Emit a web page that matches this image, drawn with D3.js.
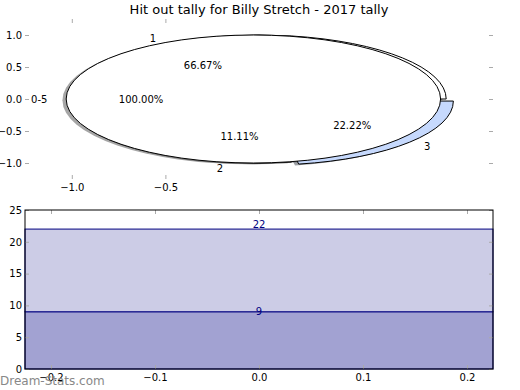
<!doctype html>
<html>
<head>
<meta charset="utf-8">
<style>
    body { margin: 0; background: #fff; }
    text { font-family: "DejaVu Sans", sans-serif; }
    .tick line { stroke: #aaa; }
    .tick text { font-size: 10px; fill: #000; }
</style>
<script src="https://d3js.org/d3.v7.min.js"></script>
</head>
<body>
<svg width="520" height="390"></svg>
<script>
// ---- data ----
var title = "Hit out tally for Billy Stretch - 2017 tally";

var outerLabels = ["1", "2", "3"];
var outerValues = [6, 1, 2];
var outerExplode = [0, 0, 0.05];
var outerColors = ["#ffffff", "#ffffff", "#c6d9fd"];

var innerLabels = ["0-5"];
var innerValues = [1];
var innerExplode = [0.03];
var innerColors = ["#ffffff"];

var pieXTicks = [-1.0, -0.5];
var pieYTicks = [-1.0, -0.5, 0.0, 0.5, 1.0];

var barBottoms = [0, 9];
var barHeights = [9, 13];
var barLabels = ["9", "22"];
var barColors = ["#a2a2d2", "#ccccE6"];
var barXTicks = [-0.2, -0.1, 0.0, 0.1, 0.2];
var barYTicks = [0, 5, 10, 15, 20, 25];

var svg = d3.select("svg");
svg.append("rect").attr("width", 520).attr("height", 390).attr("fill", "#fff");

svg.append("text")
   .attr("x", 259).attr("y", 14)
   .attr("text-anchor", "middle")
   .attr("font-size", "13px")
   .text(title);

// ---- pie panel ----
var px = d3.scaleLinear().domain([-1.25, 1.25]).range([25, 493]);
var py = d3.scaleLinear().domain([-1.25, 1.25]).range([179, 19]);
var kx = px(1) - px(0), ky = py(0) - py(1);

function addAxes(g, x, y, xt, yt, fmt) {
    var l = d3.axisLeft(y).tickValues(yt).tickSizeInner(-4).tickSizeOuter(0).tickPadding(3).tickFormat(fmt);
    var r = d3.axisRight(y).tickValues(yt).tickSizeInner(-4).tickSizeOuter(0).tickFormat("");
    var b = d3.axisBottom(x).tickValues(xt).tickSizeInner(-4).tickSizeOuter(0).tickPadding(5).tickFormat(d3.format(".1f"));
    var t = d3.axisTop(x).tickValues(xt).tickSizeInner(-4).tickSizeOuter(0).tickFormat("");
    g.append("g").attr("transform", "translate(" + x.range()[0] + ",0)").call(l);
    g.append("g").attr("transform", "translate(" + x.range()[1] + ",0)").call(r);
    g.append("g").attr("transform", "translate(0," + y.range()[0] + ")").call(b);
    g.append("g").attr("transform", "translate(0," + y.range()[1] + ")").call(t);
    g.selectAll(".domain").remove();
}

var pieAxes = svg.append("g");
addAxes(pieAxes, px, py, pieXTicks, pieYTicks, d3.format(".1f"));

var pie = d3.pie().sort(null).startAngle(Math.PI / 2).endAngle(Math.PI / 2 - 2 * Math.PI);
var arc = d3.arc().innerRadius(0).outerRadius(1);

function wedges(values, explode, colors, labels) {
    return pie(values).map(function(d, i) {
        var m = (d.startAngle + d.endAngle) / 2;
        return { a: d, dx: Math.sin(m), dy: Math.cos(m), e: explode[i], c: colors[i],
                 label: labels[i], pct: d.value / d3.sum(values) * 100 };
    });
}
var outer = wedges(outerValues, outerExplode, outerColors, outerLabels);
var inner = wedges(innerValues, innerExplode, innerColors, innerLabels);
var all = outer.concat(inner);

var pg = svg.append("g").attr("transform", "translate(" + px(0) + "," + py(0) + ") scale(" + kx + "," + ky + ")");

// shadows first
pg.selectAll(".shadow").data(all).enter().append("path")
  .attr("class", "shadow")
  .attr("d", function(d) { return arc(d.a); })
  .attr("transform", function(d) { return "translate(" + (d.e * d.dx - 0.02) + "," + (-d.e * d.dy + 0.02) + ")"; })
  .attr("fill", function(d) { var c = d3.rgb(d.c); return d3.rgb(c.r * 0.3, c.g * 0.3, c.b * 0.3); })
  .attr("fill-opacity", 0.5)
  .attr("stroke", "none");

pg.selectAll(".wedge").data(all).enter().append("path")
  .attr("class", "wedge")
  .attr("d", function(d) { return arc(d.a); })
  .attr("transform", function(d) { return "translate(" + (d.e * d.dx) + "," + (-d.e * d.dy) + ")"; })
  .attr("fill", function(d) { return d.c; })
  .attr("stroke", "#000")
  .attr("stroke-width", 1)
  .attr("vector-effect", "non-scaling-stroke");

var lg = svg.append("g").attr("font-size", "10px");
all.forEach(function(d) {
    var cx = d.e * d.dx, cy = d.e * d.dy;
    lg.append("text")
      .attr("x", px(cx + 1.1 * d.dx))
      .attr("y", py(cy + 1.1 * d.dy))
      .attr("dy", "0.35em")
      .attr("text-anchor", d.dx > 0 ? "start" : "end")
      .text(d.label);
    lg.append("text")
      .attr("x", px(cx + 0.6 * d.dx))
      .attr("y", py(cy + 0.6 * d.dy))
      .attr("dy", "0.35em")
      .attr("text-anchor", "middle")
      .text(d3.format(".2f")(d.pct) + "%");
});

// ---- bar panel ----
var bx = d3.scaleLinear().domain([-0.225, 0.225]).range([25, 493]);
var by = d3.scaleLinear().domain([0, 25]).range([369, 210]);

var bg = svg.append("g");
bg.selectAll(".bar").data(barHeights).enter().append("rect")
  .attr("class", "bar")
  .attr("x", bx(-0.225))
  .attr("width", bx(0.225) - bx(-0.225))
  .attr("y", function(d, i) { return by(barBottoms[i] + d); })
  .attr("height", function(d, i) { return by(barBottoms[i]) - by(barBottoms[i] + d); })
  .attr("fill", function(d, i) { return barColors[i]; })
  .attr("stroke", "#000080")
  .attr("stroke-width", 1);

bg.selectAll(".blabel").data(barHeights).enter().append("text")
  .attr("class", "blabel")
  .attr("x", bx(0))
  .attr("y", function(d, i) { return by(barBottoms[i] + d) + (i === 0 ? 3 : -1); })
  .attr("text-anchor", "middle")
  .attr("font-size", "10px")
  .attr("fill", "#000080")
  .text(function(d, i) { return barLabels[i]; });

var barAxes = svg.append("g");
addAxes(barAxes, bx, by, barXTicks, barYTicks, d3.format("d"));

svg.append("rect")
   .attr("x", 25).attr("y", 210)
   .attr("width", bx(0.225) - bx(-0.225))
   .attr("height", by(0) - by(25))
   .attr("fill", "none").attr("stroke", "#000").attr("stroke-width", 1);

svg.append("text")
   .attr("x", 0).attr("y", 385)
   .attr("font-size", "12px")
   .attr("fill", "#888")
   .text("Dream-Stats.com");
</script>
</body>
</html>
